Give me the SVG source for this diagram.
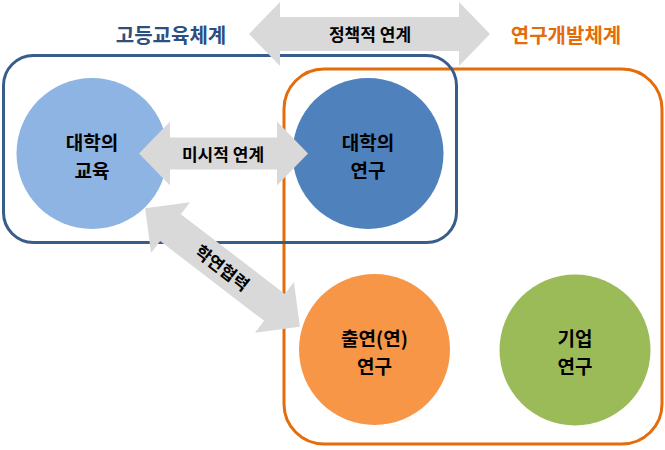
<svg xmlns="http://www.w3.org/2000/svg" width="665" height="450" viewBox="0 0 665 450">
<style>
text{font-family:"Malgun Gothic","Noto Sans CJK KR","Noto Sans",sans-serif;font-weight:bold;text-anchor:middle}
.lbl{font-size:19px;fill:#000}
.arr{fill:#d9d9d9}
.alb{font-size:17px;fill:#000}
</style>
<rect width="665" height="450" fill="#fff"/>
<g id="rnd-system">
<rect x="284" y="69" width="378" height="375" rx="40" fill="none" stroke="#e46c0a" stroke-width="3"/>
<text x="566" y="43" font-size="20" fill="#e46c0a">연구개발체계</text>
</g>
<g id="higher-edu-system">
<rect x="3.5" y="55.5" width="453" height="187" rx="30" fill="none" stroke="#385d8a" stroke-width="3"/>
<text x="171" y="43" font-size="20" fill="#2d4f80">고등교육체계</text>
</g>
<g id="univ-edu">
<circle cx="92" cy="153.5" r="75.5" fill="#8eb4e3"/>
<text class="lbl" x="92" y="150">대학의</text>
<text class="lbl" x="92" y="178">교육</text>
</g>
<g id="univ-research">
<circle cx="368" cy="153.5" r="75.5" fill="#4f81bd"/>
<text class="lbl" x="368" y="150">대학의</text>
<text class="lbl" x="368" y="178">연구</text>
</g>
<g id="gri-research">
<circle cx="374.5" cy="349.5" r="75.5" fill="#f79646"/>
<text class="lbl" x="374.5" y="346">출연(연)</text>
<text class="lbl" x="374.5" y="374">연구</text>
</g>
<g id="corp-research">
<circle cx="575" cy="350" r="75.5" fill="#9bbb59"/>
<text class="lbl" x="575" y="346">기업</text>
<text class="lbl" x="575" y="374">연구</text>
</g>
<g id="connectors">
<g id="policy-link">
<path class="arr" d="M249 34 L280 2 L280 17 L459 17 L459 2 L490 34 L459 66 L459 51 L280 51 L280 66 Z"/>
<text class="alb" x="370" y="41">정책적 연계</text>
</g>
<g id="micro-link">
<path class="arr" d="M139 153.5 L170 121.5 L170 137.5 L277 137.5 L277 121.5 L308 153.5 L277 185.5 L277 169.5 L170 169.5 L170 185.5 Z"/>
<text class="alb" x="223" y="161">미시적 연계</text>
</g>
<g id="univ-gri-link" transform="translate(222.5 267.5) rotate(37.5)">
<path class="arr" d="M-97.5 0 L-65.5 -32 L-65.5 -17 L65.5 -17 L65.5 -32 L97.5 0 L65.5 32 L65.5 17 L-65.5 17 L-65.5 32 Z"/>
<text class="alb" x="0" y="7">학연협력</text>
</g>
</g>
</svg>
